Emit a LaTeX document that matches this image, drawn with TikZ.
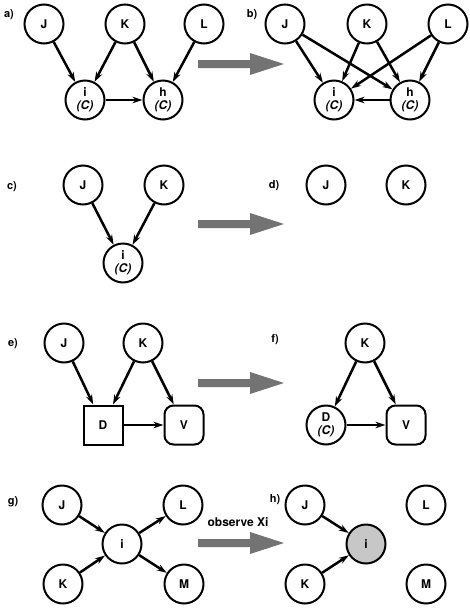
\documentclass[tikz,border=0pt]{standalone}
\usepackage{fontspec}
\setmainfont{TeX Gyre Heros}
\usetikzlibrary{arrows.meta}

\begin{document}
\begin{tikzpicture}[x=1pt,y=-1pt,
  var/.style={circle,draw,line width=2pt,minimum size=39pt,inner sep=0pt,align=center,font=\fontsize{12}{13}\selectfont\bfseries},
  dec/.style={var,rectangle},
  util/.style={var,rectangle,rounded corners=9pt},
  obs/.style={var,fill=black!22},
  lnk/.style={line width=2.5pt,-{Stealth[length=10pt,width=6.5pt]}},
  thin lnk/.style={lnk,line width=1.7pt},
  panel/.style={font=\fontsize{11}{12}\selectfont\bfseries},
  bigarrow/.style={fill=black!55}]
\useasboundingbox (0,0) rectangle (470,611);

% panel labels
\foreach \t/\x/\y in {a/9/15,b/252/15,c/12/187,d/274/186,e/13/344,f/275/340,g/13/502,h/275/500}
  \node[panel] (lbl\t) at (\x,\y) {\t)};

% transformation arrows
\foreach \y in {64,224,383,543}
  \fill[bigarrow] (198,\y-4) -- (250,\y-4) -- (250,\y-11) -- (284,\y)
    -- (250,\y+11) -- (250,\y+4) -- (198,\y+4) -- cycle;
\node[panel,font=\fontsize{12}{13}\selectfont\bfseries] (obstxt) at (238,522) {observe Xi};

% a)
\node[var] (aJ) at (44,24) {J};
\node[var] (aK) at (125,24) {K};
\node[var] (aL) at (204,24) {L};
\node[var] (ai) at (85,100) {i\\\itshape(C)};
\node[var] (ah) at (163,100) {h\\\itshape(C)};
\foreach \s/\t in {aJ/ai,aK/ai,aK/ah,aL/ah,ai/ah}
  \draw[lnk] (\s) -- (\t);

% b)
\node[var] (bJ) at (285,24) {J};
\node[var] (bK) at (367,24) {K};
\node[var] (bL) at (448,24) {L};
\node[var] (bi) at (334,100) {i\\\itshape(C)};
\node[var] (bh) at (410,100) {h\\\itshape(C)};
\foreach \s/\t in {bJ/bi,bJ/bh,bK/bi,bK/bh,bL/bi,bL/bh,bh/bi}
  \draw[lnk] (\s) -- (\t);

% c) and d)
\node[var] (cJ) at (83,185) {J};
\node[var] (cK) at (164,185) {K};
\node[var] (ci) at (123,263) {i\\\itshape(C)};
\draw[lnk] (cJ) -- (ci);
\draw[lnk] (cK) -- (ci);
\node[var] (dJ) at (326,185) {J};
\node[var] (dK) at (406,185) {K};

% e) and f)
\node[var] (eJ) at (64,343) {J};
\node[var] (eK) at (143,343) {K};
\node[dec] (eD) at (103,425) {D};
\node[util] (eV) at (184,425) {V};
\draw[lnk] (eJ) -- (eD);
\draw[lnk] (eK) -- (eD);
\draw[lnk] (eK) -- (eV);
\draw[thin lnk] (eD) -- (eV);
\node[var] (fK) at (365,343) {K};
\node[var] (fD) at (326,425) {D\\\itshape(C)};
\node[util] (fV) at (406,425) {V};
\draw[lnk] (fK) -- (fD);
\draw[lnk] (fK) -- (fV);
\draw[thin lnk] (fD) -- (fV);

% g) and h)
\node[var] (gJ) at (62,505) {J};
\node[var] (gK) at (63,584) {K};
\node[var] (gi) at (122,544) {i};
\node[var] (gL) at (183,505) {L};
\node[var] (gM) at (184,584) {M};
\foreach \s/\t in {gJ/gi,gK/gi,gi/gL,gi/gM}
  \draw[lnk] (\s) -- (\t);
\node[var] (hJ) at (305,505) {J};
\node[var] (hK) at (305,584) {K};
\node[obs] (hi) at (366,544) {i};
\node[var] (hL) at (426,505) {L};
\node[var] (hM) at (426,584) {M};
\draw[lnk] (hJ) -- (hi);
\draw[lnk] (hK) -- (hi);
\end{tikzpicture}
\end{document}
